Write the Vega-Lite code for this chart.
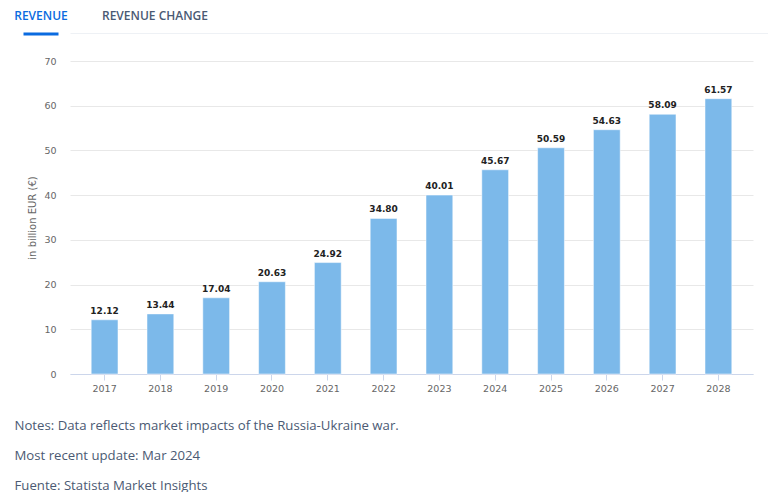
{
  "$schema": "https://vega.github.io/schema/vega-lite/v6.json",
  "background": "white",
  "padding": {"left": 14, "top": 0, "right": 0, "bottom": 0},
  "spacing": 20,
  "config": {
    "view": {"stroke": null},
    "font": "DejaVu Sans"
  },
  "vconcat": [
    {
      "width": 699,
      "height": 33,
      "data": {"values": [
        {"tab": "REVENUE", "active": true},
        {"tab": "REVENUE CHANGE", "active": false}
      ]},
      "encoding": {
        "x": {
          "field": "tab",
          "type": "nominal",
          "sort": null,
          "scale": {
            "type": "point",
            "domain": ["REVENUE", "REVENUE CHANGE", " ", "  ", "   ", "    ", "     "],
            "padding": 0.066,
            "align": 0
          },
          "axis": {"labels": false, "ticks": false, "title": null, "domainColor": "#eef1f5", "domainWidth": 1}
        }
      },
      "layer": [
        {
          "mark": {"type": "text", "font": "Open Sans", "fontSize": 12, "fontWeight": 600, "align": "center", "baseline": "middle", "dx": -29, "dy": -0.5},
          "encoding": {
            "text": {"field": "tab"},
            "color": {
              "condition": {"test": "datum.active", "value": "#0a6be0"},
              "value": "#4a5a73"
            }
          }
        },
        {
          "transform": [{"filter": "datum.active"}],
          "mark": {"type": "tick", "orient": "horizontal", "color": "#0a6be0", "size": 35, "thickness": 3, "xOffset": -29, "yOffset": 17.5, "opacity": 1},
          "encoding": {}
        }
      ]
    },
    {
      "width": 683,
      "height": 313,
      "data": {"values": [
        {"year": "2017", "revenue": 12.12},
        {"year": "2018", "revenue": 13.44},
        {"year": "2019", "revenue": 17.04},
        {"year": "2020", "revenue": 20.63},
        {"year": "2021", "revenue": 24.92},
        {"year": "2022", "revenue": 34.80},
        {"year": "2023", "revenue": 40.01},
        {"year": "2024", "revenue": 45.67},
        {"year": "2025", "revenue": 50.59},
        {"year": "2026", "revenue": 54.63},
        {"year": "2027", "revenue": 58.09},
        {"year": "2028", "revenue": 61.57}
      ]},
      "encoding": {
        "x": {
          "field": "year",
          "type": "ordinal",
          "scale": {"paddingInner": 0.52, "paddingOuter": 0.38},
          "axis": {
            "labelAngle": 0,
            "labelFontSize": 9.5,
            "labelColor": "#666666",
            "labelPadding": 3,
            "domainColor": "#ccd6eb",
            "tickColor": "#ccd6eb",
            "tickSize": 6,
            "title": [
              "Notes: Data reflects market impacts of the Russia-Ukraine war.",
              "Most recent update: Mar 2024",
              "Fuente: Statista Market Insights"
            ],
            "titleFont": "Open Sans",
            "titleFontSize": 13.2,
            "titleFontWeight": "normal",
            "titleColor": "#4b5a73",
            "titleAlign": "left",
            "titleBaseline": "middle",
            "titleX": -56,
            "titleY": 51,
            "titleLineHeight": 30,
            "titleAnchor": "start"
          }
        },
        "y": {
          "field": "revenue",
          "type": "quantitative",
          "scale": {"domain": [0, 70], "nice": false},
          "axis": {
            "values": [0, 10, 20, 30, 40, 50, 60, 70],
            "domain": false,
            "ticks": false,
            "tickSize": 0,
            "labelPadding": 14,
            "labelFontSize": 9.5,
            "labelColor": "#666666",
            "gridColor": "#e8e8e8",
            "title": "in billion EUR (€)",
            "titleFontSize": 10,
            "titleFontWeight": "normal",
            "titleColor": "#666666",
            "titlePadding": 6
          }
        }
      },
      "layer": [
        {
          "mark": {"type": "bar", "color": "#7cb9ea", "stroke": "#ffffff", "strokeWidth": 0.5}
        },
        {
          "mark": {"type": "text", "baseline": "bottom", "dy": -4, "fontSize": 9, "fontWeight": "bold", "color": "#222222"},
          "encoding": {
            "text": {"field": "revenue", "type": "quantitative", "format": ".2f"}
          }
        }
      ]
    }
  ]
}
